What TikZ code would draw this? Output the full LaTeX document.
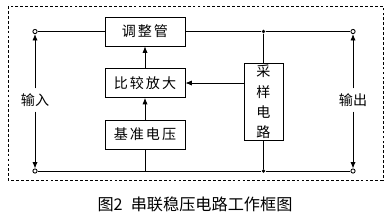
\documentclass[tikz,border=0pt]{standalone}
\usepackage{fontspec}
\setmainfont{Noto Sans CJK SC}
\newfontfamily\blkfont[LetterSpace=14]{Noto Sans CJK SC}
\usetikzlibrary{arrows.meta}
\tikzset{
    blk/.style={draw, minimum width=2cm, minimum height=0.725cm, inner sep=1pt, font=\blkfont\fontsize{10}{12}\selectfont},
    term/.style={circle, draw, fill=white, inner sep=0pt, minimum size=3pt},
    jdot/.style={circle, fill, inner sep=0pt, minimum size=2.8pt},
}

\begin{document}
\begin{tikzpicture}[x=0.025cm, y=-0.025cm, line width=0.6pt, >={Latex[length=1.6mm, width=1.3mm]}]
    \useasboundingbox (0,0) rectangle (392,213);
    \draw[dashed, dash pattern=on 2pt off 1.5pt, line width=0.5pt] (8,6) rectangle (383,180);

    \node[blk] (adj) at (145,31.5) {调整管};
    \node[blk] (cmp) at (145,83) {比较放大};
    \node[blk] (vref) at (145,134.5) {基准电压};
    \node[blk, minimum width=0.975cm, minimum height=1.85cm, align=center, font=\fontsize{10}{14.5}\selectfont] (smp) at (263.5,102) {采\\样\\电\\路};

    \node[term] (tin) at (35,31.5) {};
    \node[term] (bin) at (35,171) {};
    \node[term] (tout) at (353,31.5) {};
    \node[term] (bout) at (353,171) {};
    \coordinate (g) at (145,171);
    \node[jdot] (j1) at (263.5,31.5) {};
    \node[jdot] (j2) at (263.5,171) {};

    \draw (tin) -- (adj);
    \draw (adj) -- (j1) -- (tout);
    \draw (j1) -- (smp);
    \draw (smp) -- (j2);
    \draw (bin) -- (g) -- (j2) -- (bout);
    \draw (vref) -- (g);
    \draw[->] (cmp) -- (adj);
    \draw[->] (vref) -- (cmp);
    \draw[->] (smp.west |- cmp.east) -- (cmp.east);

    \node[font=\fontsize{10}{12}\selectfont] (in) at (35,100) {输入};
    \node[font=\fontsize{10}{12}\selectfont] (out) at (353,100) {输出};
    \draw[->] (in) -- (tin);
    \draw[->] (in) -- (bin);
    \draw[->] (out) -- (tout);
    \draw[->] (out) -- (bout);

    \node[font=\fontsize{11.5}{13}\selectfont] (cap) at (195,204) {图2\enspace 串联稳压电路工作框图};
\end{tikzpicture}
\end{document}
